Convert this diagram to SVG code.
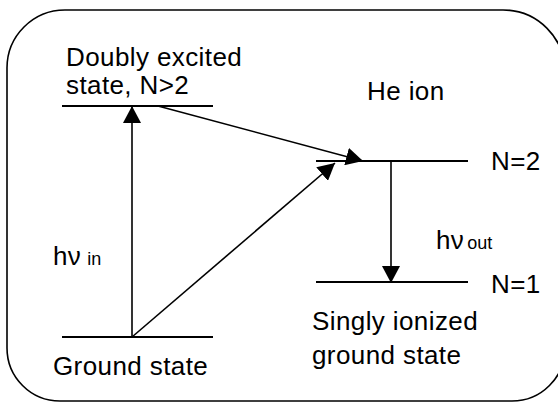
<svg xmlns="http://www.w3.org/2000/svg" width="558" height="404" viewBox="0 0 558 404">
  <defs>
    <marker id="ah" markerUnits="userSpaceOnUse" viewBox="0 0 17 18" refX="17" refY="9" markerWidth="17" markerHeight="18" orient="auto">
      <path d="M0,0 L17,9 L0,18 z" fill="#000"/>
    </marker>
  </defs>
  <style>
    text { font-family: "Liberation Sans", Arial, Helvetica, sans-serif; font-size: 26px; letter-spacing: 0.4px; fill: #000; }
    .sub { font-size: 18px; letter-spacing: 0; }
    .level { stroke: #000; stroke-width: 1.8; fill: none; }
    .conn { stroke: #000; stroke-width: 1.6; fill: none; marker-end: url(#ah); }
  </style>
  <path d="M65,10 H503 A62,62 0 0 1 565,72 V348 A53,53 0 0 1 512,401 H60 A53,53 0 0 1 7,348 V68 A58,58 0 0 1 65,10 Z" fill="none" stroke="#000" stroke-width="1.6"/>

  <g id="doubly-excited">
    <line class="level" x1="62" y1="106" x2="213" y2="106"/>
    <text x="66" y="66">Doubly excited</text>
    <text x="66" y="94">state, N&gt;2</text>
  </g>

  <g id="ground-state">
    <line class="level" x1="62" y1="337" x2="213" y2="337"/>
    <text x="53" y="375">Ground state</text>
  </g>

  <g id="he-ion-n2">
    <text x="367" y="100">He ion</text>
    <line class="level" x1="316" y1="161" x2="468" y2="161"/>
    <text x="491" y="170">N=2</text>
  </g>

  <g id="he-ion-n1">
    <line class="level" x1="316" y1="282" x2="468" y2="282"/>
    <text x="491" y="293">N=1</text>
    <text x="312" y="330">Singly ionized</text>
    <text x="312" y="364">ground state</text>
  </g>

  <g id="hv-in-label">
    <text x="53" y="265">hν<tspan class="sub" dx="6">in</tspan></text>
  </g>

  <g id="hv-out-label">
    <text x="436" y="249">hν<tspan class="sub" dx="3">out</tspan></text>
  </g>

  <g id="connectors">
    <line class="conn" x1="132" y1="337" x2="132" y2="106"/>
    <line class="conn" x1="158" y1="106" x2="363" y2="161"/>
    <line class="conn" x1="132" y1="337" x2="335" y2="163"/>
    <line class="conn" x1="391" y1="161" x2="391" y2="283"/>
  </g>
</svg>
